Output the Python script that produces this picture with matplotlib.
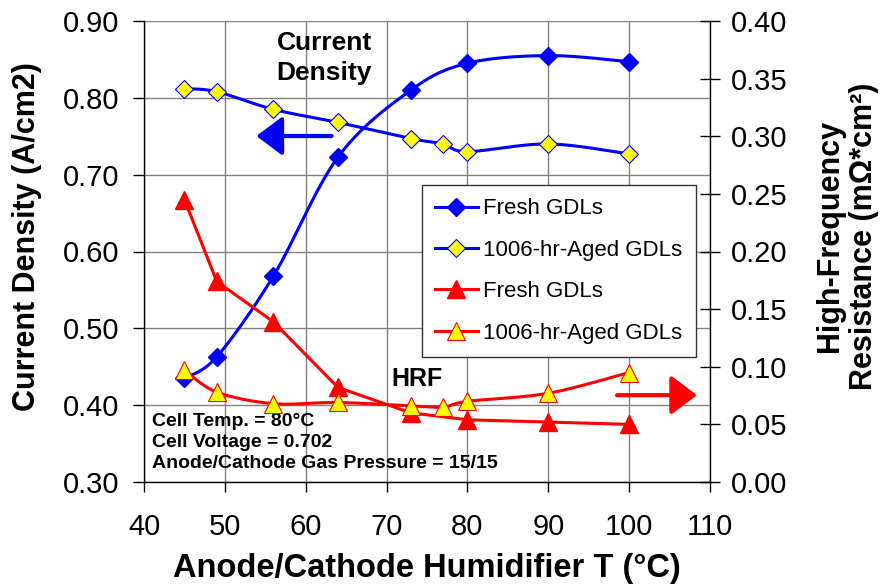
import numpy as np
import matplotlib
matplotlib.use("Agg")
import matplotlib.pyplot as plt
from matplotlib.lines import Line2D

plt.rcParams['font.family'] = ['Liberation Sans', 'DejaVu Sans']

# Humidifier temperatures (deg C)
temps_fresh = [45, 49, 56, 64, 73, 80, 90, 100]
temps_aged = [45, 49, 56, 64, 73, 77, 80, 90, 100]

# Current density (A/cm2)
cd_fresh = [0.435, 0.463, 0.568, 0.723, 0.810, 0.845, 0.855, 0.847]
cd_aged = [0.812, 0.808, 0.785, 0.768, 0.747, 0.740, 0.730, 0.740, 0.727]

# High-frequency resistance (mOhm*cm2)
hfr_fresh = [0.245, 0.174, 0.139, 0.082, 0.060, 0.054, 0.052, 0.050]
hfr_aged = [0.097, 0.078, 0.068, 0.069, 0.066, 0.065, 0.070, 0.077, 0.095]

series_labels = ["Fresh GDLs", "1006-hr-Aged GDLs", "Fresh GDLs", "1006-hr-Aged GDLs"]
x_ticks = [40, 50, 60, 70, 80, 90, 100, 110]
left_ticks = [0.30, 0.40, 0.50, 0.60, 0.70, 0.80, 0.90]
right_ticks = [0.00, 0.05, 0.10, 0.15, 0.20, 0.25, 0.30, 0.35, 0.40]

XLIM = (40, 110)
YLIM_L = (0.30, 0.90)
YLIM_R = (0.00, 0.40)

BLUE = "#0000FF"
RED = "#FF0000"
YELLOW = "#FFFF00"

fig = plt.figure(figsize=(8.89, 5.85), dpi=100)
L, R, T, B = 144 / 889, 710 / 889, 1 - 21 / 585, 1 - 482 / 585
ax = fig.add_axes([L, B, R - L, T - B])
ax2 = ax.twinx()

W_PX, H_PX = (R - L) * 889, (T - B) * 585


def smooth(xs, ys, ylim, n=40):
    """Smoothed curve through the points (cubic Bezier, Catmull-Rom tangents),
    computed in screen-proportional units."""
    xs = np.asarray(xs, float)
    ys = np.asarray(ys, float)
    u = (xs - XLIM[0]) / (XLIM[1] - XLIM[0]) * W_PX
    v = (ys - ylim[0]) / (ylim[1] - ylim[0]) * H_PX
    p = np.column_stack([u, v])
    pe = np.vstack([p[0], p, p[-1]])
    out = []
    t = np.linspace(0, 1, n)[:, None]
    for i in range(len(p) - 1):
        p0 = pe[i + 1]
        p3 = pe[i + 2]
        p1 = p0 + (pe[i + 2] - pe[i]) / 6.0
        p2 = p3 - (pe[i + 3] - pe[i + 1]) / 6.0
        seg = ((1 - t) ** 3) * p0 + 3 * ((1 - t) ** 2) * t * p1 + 3 * (1 - t) * t ** 2 * p2 + t ** 3 * p3
        out.append(seg if i == 0 else seg[1:])
    c = np.vstack(out)
    cx = c[:, 0] / W_PX * (XLIM[1] - XLIM[0]) + XLIM[0]
    cy = c[:, 1] / H_PX * (ylim[1] - ylim[0]) + ylim[0]
    return cx, cy


LW = 2.2
styles = [
    dict(color=BLUE, marker="D", ms=9, mfc=BLUE, mec=BLUE, mew=1, smooth=True),
    dict(color=BLUE, marker="D", ms=9, mfc=YELLOW, mec=BLUE, mew=0.8, smooth=True),
    dict(color=RED, marker="^", ms=12.5, mfc=RED, mec=RED, mew=1, smooth=False),
    dict(color=RED, marker="^", ms=12.5, mfc=YELLOW, mec=RED, mew=0.8, smooth=True),
]

datasets = [
    (ax, temps_fresh, cd_fresh, YLIM_L),
    (ax, temps_aged, cd_aged, YLIM_L),
    (ax2, temps_fresh, hfr_fresh, YLIM_R),
    (ax2, temps_aged, hfr_aged, YLIM_R),
]

handles = []
for (a, xs, ys, ylim), st, lab in zip(datasets, styles, series_labels):
    if st["smooth"]:
        cx, cy = smooth(xs, ys, ylim)
    else:
        cx, cy = xs, ys
    a.plot(cx, cy, color=st["color"], lw=LW, zorder=3)
    a.plot(xs, ys, linestyle="none", marker=st["marker"], ms=st["ms"],
           mfc=st["mfc"], mec=st["mec"], mew=st["mew"], zorder=4)
    handles.append(Line2D([], [], color=st["color"], lw=LW, marker=st["marker"],
                          ms=st["ms"], mfc=st["mfc"], mec=st["mec"], mew=st["mew"],
                          label=lab))

# Axes limits and ticks
ax.set_xlim(*XLIM)
ax.set_ylim(*YLIM_L)
ax2.set_ylim(*YLIM_R)
ax.set_xticks(x_ticks)
ax.set_xticklabels([str(v) for v in x_ticks])
ax.set_yticks(left_ticks)
ax.set_yticklabels([f"{v:.2f}" for v in left_ticks])
ax2.set_yticks(right_ticks)
ax2.set_yticklabels([f"{v:.2f}" for v in right_ticks])

TICK_FS = 21
ax.tick_params(axis="x", direction="out", length=7, width=1, pad=15, labelsize=TICK_FS)
ax.tick_params(axis="y", direction="out", length=8, width=1, pad=10, labelsize=TICK_FS)
ax2.tick_params(axis="y", direction="inout", length=14, width=1, pad=8, labelsize=TICK_FS)

ax.grid(True, color="#808080", lw=1)
ax.set_axisbelow(True)
for s in ("top", "right"):
    ax.spines[s].set_visible(False)
for s in ("top", "left", "bottom"):
    ax2.spines[s].set_visible(False)
ax2.spines["right"].set_linewidth(1)
ax.spines["left"].set_linewidth(1)
ax.spines["bottom"].set_linewidth(1)

# Axis titles
fig.text(427 / 889, 1 - 569 / 585, "Anode/Cathode Humidifier T (°C)", ha="center", va="center",
         fontsize=23.5, fontweight="bold")
fig.text(27 / 889, 1 - 237 / 585, "Current Density (A/cm2)", ha="center", va="center",
         rotation=90, fontsize=22, fontweight="bold")
fig.text(847 / 889, 1 - 236 / 585, "High-Frequency\nResistance (mΩ*cm²)", ha="center", va="center",
         rotation=90, fontsize=22, fontweight="bold", multialignment="center", linespacing=1.2)

# Annotations inside the plot
ax.text(56.4, 0.852, "Current\nDensity", ha="left", va="center", fontsize=19,
        fontweight="bold", linespacing=1.3, zorder=5)
ax.text(73.8, 0.434, "HRF", ha="center", va="center", fontsize=18, fontweight="bold", zorder=5)
ax.text(41.0, 0.3518, "Cell Temp. = 80°C\nCell Voltage = 0.702\nAnode/Cathode Gas Pressure = 15/15",
        ha="left", va="center", fontsize=14, fontweight="bold", linespacing=1.3, zorder=5)

ax.annotate("", xy=(53.9, 0.7503), xytext=(63.2, 0.7503),
            arrowprops=dict(arrowstyle="-|>,head_length=0.4,head_width=0.3", color=BLUE,
                            lw=3, mutation_scale=40, shrinkA=0, shrinkB=0))
ax.annotate("", xy=(108.4, 0.4130), xytext=(98.5, 0.4130),
            arrowprops=dict(arrowstyle="-|>,head_length=0.4,head_width=0.3", color=RED,
                            lw=3, mutation_scale=40, shrinkA=0, shrinkB=0))

leg = ax2.legend(handles=handles, loc="upper left",
                 bbox_to_anchor=(422 / 889, 1 - 185 / 585), bbox_transform=fig.transFigure,
                 fontsize=16, frameon=True, fancybox=False, framealpha=1,
                 edgecolor="#333333", handlelength=1.9, labelspacing=0.92,
                 borderpad=0.6, handletextpad=0.25, borderaxespad=0)
leg.get_frame().set_linewidth(1)

fig.savefig("out.png", dpi=100, facecolor="white")
